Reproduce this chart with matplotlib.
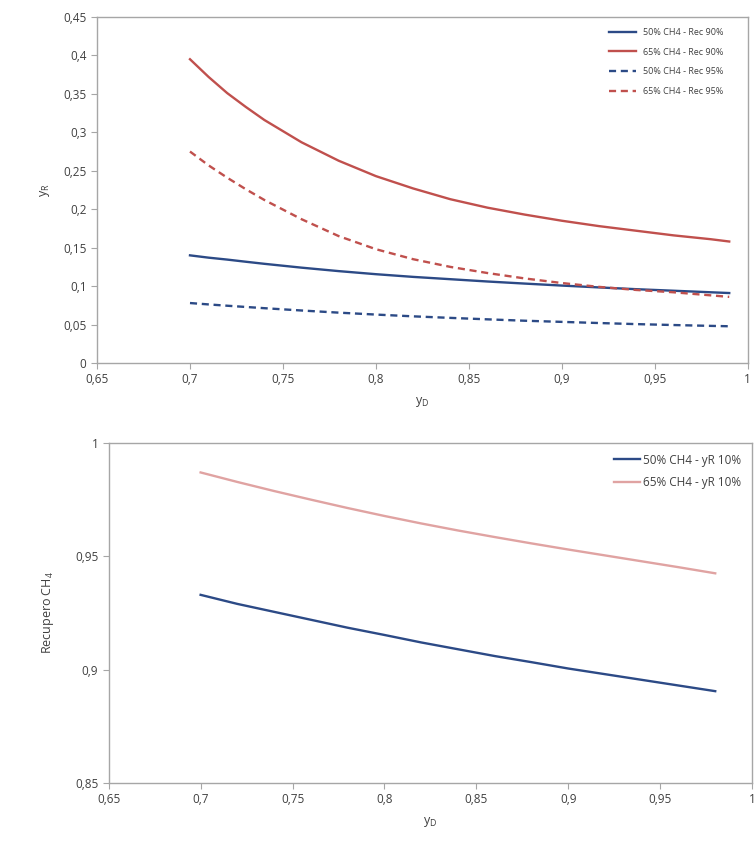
import matplotlib
matplotlib.use("Agg")
import matplotlib.pyplot as plt
from matplotlib.ticker import FuncFormatter, MultipleLocator

plt.rcParams['font.family'] = ['Open Sans', 'DejaVu Sans']

# ---- Top chart data ----
yD_top = [0.70, 0.71, 0.72, 0.73, 0.74, 0.76, 0.78, 0.80, 0.82, 0.84, 0.86, 0.88, 0.90, 0.92, 0.94, 0.96, 0.98, 0.99]
ch4_50_rec90 = [0.140, 0.137, 0.1345, 0.1317, 0.129, 0.124, 0.1195, 0.1155, 0.112, 0.109, 0.106, 0.1033, 0.1007, 0.0983, 0.096, 0.094, 0.092, 0.091]
ch4_65_rec90 = [0.395, 0.372, 0.351, 0.333, 0.316, 0.287, 0.263, 0.243, 0.227, 0.213, 0.202, 0.193, 0.185, 0.178, 0.172, 0.166, 0.161, 0.158]
ch4_50_rec95 = [0.078, 0.0762, 0.0745, 0.0729, 0.0713, 0.0683, 0.0655, 0.063, 0.0607, 0.0587, 0.0568, 0.055, 0.0535, 0.052, 0.0506, 0.0494, 0.0483, 0.0478]
ch4_65_rec95 = [0.275, 0.257, 0.241, 0.226, 0.212, 0.187, 0.165, 0.148, 0.135, 0.125, 0.117, 0.110, 0.104, 0.099, 0.095, 0.092, 0.088, 0.086]
top_labels = ["50% CH4 - Rec 90%", "65% CH4 - Rec 90%", "50% CH4 - Rec 95%", "65% CH4 - Rec 95%"]

# ---- Bottom chart data ----
yD_bot = [0.70, 0.72, 0.74, 0.76, 0.78, 0.80, 0.82, 0.84, 0.86, 0.88, 0.90, 0.92, 0.94, 0.96, 0.98]
rec_50 = [0.933, 0.929, 0.9255, 0.922, 0.9185, 0.9153, 0.912, 0.909, 0.906, 0.9033, 0.9005, 0.898, 0.8955, 0.893, 0.8905]
rec_65 = [0.987, 0.9828, 0.9788, 0.975, 0.9713, 0.9678, 0.9645, 0.9614, 0.9585, 0.9557, 0.953, 0.9504, 0.9478, 0.9452, 0.9425]
bot_labels = ["50% CH4 - yR 10%", "65% CH4 - yR 10%"]

BLUE = "#2c4a86"
RED = "#c0504d"
PINK = "#e0a3a2"
GREY = "#a6a6a6"
TXT = "#404040"


def comma_fmt(v, pos):
    s = f"{v:.2f}".rstrip("0").rstrip(".")
    return s.replace(".", ",")


def style_axes(ax):
    for sp in ax.spines.values():
        sp.set_color(GREY)
        sp.set_linewidth(1.0)
    ax.tick_params(direction="out", length=4, width=0.8, color=GREY,
                   labelsize=8.5, labelcolor=TXT)
    ax.xaxis.set_major_formatter(FuncFormatter(comma_fmt))
    ax.yaxis.set_major_formatter(FuncFormatter(comma_fmt))


fig = plt.figure(figsize=(7.55, 8.47), dpi=100)

LW = 1.7
ax1 = fig.add_axes([0.1285, 0.5714, 0.862, 0.4086])
ax1.plot(yD_top, ch4_50_rec90, color=BLUE, lw=LW, label=top_labels[0])
ax1.plot(yD_top, ch4_65_rec90, color=RED, lw=LW, label=top_labels[1])
ax1.plot(yD_top, ch4_50_rec95, color=BLUE, lw=LW, ls=(0, (3, 2)), label=top_labels[2])
ax1.plot(yD_top, ch4_65_rec95, color=RED, lw=LW, ls=(0, (3, 2)), label=top_labels[3])
ax1.set_xlim(0.65, 1.0)
ax1.set_ylim(0, 0.45)
ax1.xaxis.set_major_locator(MultipleLocator(0.05))
ax1.yaxis.set_major_locator(MultipleLocator(0.05))
style_axes(ax1)
ax1.set_xlabel("y$_\\mathregular{D}$", fontsize=9, color=TXT, labelpad=6)
ax1.set_ylabel("y$_\\mathregular{R}$", fontsize=9, color=TXT, labelpad=8)
leg1 = ax1.legend(loc="upper right", frameon=False, fontsize=6.5,
                  handlelength=3.0, labelspacing=1.2, borderaxespad=0.8,
                  bbox_to_anchor=(0.98, 1.0))
for t in leg1.get_texts():
    t.set_color(TXT)

ax2 = fig.add_axes([0.144, 0.0756, 0.852, 0.4014])
ax2.plot(yD_bot, rec_50, color=BLUE, lw=LW, label=bot_labels[0])
ax2.plot(yD_bot, rec_65, color=PINK, lw=LW, label=bot_labels[1])
ax2.set_xlim(0.65, 1.0)
ax2.set_ylim(0.85, 1.0)
ax2.xaxis.set_major_locator(MultipleLocator(0.05))
ax2.yaxis.set_major_locator(MultipleLocator(0.05))
style_axes(ax2)
ax2.set_xlabel("y$_\\mathregular{D}$", fontsize=9, color=TXT, labelpad=6)
ax2.set_ylabel("Recupero CH$_\\mathregular{4}$", fontsize=9, color=TXT, labelpad=14)
leg2 = ax2.legend(loc="upper right", frameon=False, fontsize=8.5,
                  handlelength=2.2, handletextpad=0.3, labelspacing=0.8,
                  borderaxespad=0.5, bbox_to_anchor=(1.0, 1.0))
for t in leg2.get_texts():
    t.set_color(TXT)

fig.savefig("out.png", dpi=100)
